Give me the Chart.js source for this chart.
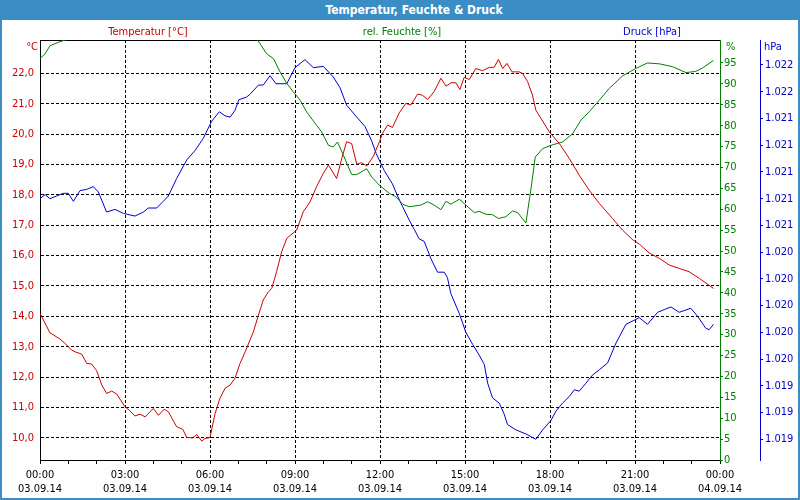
<!DOCTYPE html>
<html>
<head>
<meta charset="utf-8">
<script src="https://cdn.jsdelivr.net/npm/chart.js@4.4.0/dist/chart.umd.min.js"></script>
<style>
  html, body { margin: 0; padding: 0; background: #fdfefd; }
  #wrap { position: relative; width: 800px; height: 500px; background: #fdfefd; overflow: hidden; }
  #c { position: absolute; left: 0; top: 0; }
  .t { position: absolute; font-family: 'DejaVu Sans Condensed', 'DejaVu Sans', sans-serif; font-size: 11px; line-height: 14px; white-space: nowrap; }
  #frame { position: absolute; left: 0; top: 0; width: 800px; height: 500px; box-sizing: border-box; border: 2px solid #3b8ec5; border-top: none; pointer-events: none; }
  #title { position: absolute; left: 0; top: 0; width: 800px; height: 20px; background: #3b8ec5; color: #fff; font: bold 12px 'DejaVu Sans Condensed', 'DejaVu Sans', sans-serif; line-height: 20px; text-align: center; box-sizing: border-box; padding-left: 28px; }
</style>
</head>
<body>
<div id="wrap">
  <canvas id="c" width="800" height="500"></canvas>
  <div id="title">Temperatur, Feuchte &amp; Druck</div>
  <div class="t" style="left:148px;top:25px;transform:translateX(-50%);color:#cc0000">Temperatur [°C]</div>
  <div class="t" style="left:402px;top:25px;transform:translateX(-50%);color:#008000">rel. Feuchte [%]</div>
  <div class="t" style="left:652px;top:25px;transform:translateX(-50%);color:#0000cc">Druck [hPa]</div>
  <div class="t" style="left:0;width:38px;text-align:right;top:40px;color:#cc0000">°C</div>
  <div class="t" style="left:726px;top:40px;color:#008000">%</div>
  <div class="t" style="left:764px;top:40px;color:#0000cc">hPa</div>
  <div id="frame"></div>
</div>
<script>
// ---- time ticks (hours since 03.09.14 00:00) ----
const timeTicks = [0, 3, 6, 9, 12, 15, 18, 21, 24];
const timeLabels = ['00:00', '03:00', '06:00', '09:00', '12:00', '15:00', '18:00', '21:00', '00:00'];
const dateLabels = ['03.09.14', '03.09.14', '03.09.14', '03.09.14', '03.09.14', '03.09.14', '03.09.14', '03.09.14', '04.09.14'];

// ---- axis ticks ----
const tempTicks = [10, 11, 12, 13, 14, 15, 16, 17, 18, 19, 20, 21, 22];
const humTicks = [0, 5, 10, 15, 20, 25, 30, 35, 40, 45, 50, 55, 60, 65, 70, 75, 80, 85, 90, 95];
const presTicks = [1019.0, 1019.2, 1019.4, 1019.6, 1019.8, 1020.0, 1020.2, 1020.4, 1020.6, 1020.8, 1021.0, 1021.2, 1021.4, 1021.6, 1021.8];

// ---- Temperatur [°C] ----
const tempHours = [
  0, 0.35, 0.71, 0.88, 1.12, 1.24, 1.47, 1.65, 1.82, 2.0,
  2.18, 2.35, 2.53, 2.71, 3.0, 3.15, 3.35, 3.53, 3.71, 4.0,
  4.18, 4.38, 4.53, 4.82, 5.04, 5.18, 5.39, 5.53, 5.71, 5.82,
  6.0, 6.18, 6.35, 6.53, 6.71, 6.88, 7.06, 7.24, 7.53, 7.71,
  7.88, 8.06, 8.18, 8.35, 8.53, 8.71, 8.94, 9.06, 9.29, 9.53,
  9.76, 10.0, 10.18, 10.47, 10.65, 10.82, 11.0, 11.18, 11.35, 11.53,
  11.76, 11.98, 12.09, 12.27, 12.44, 12.68, 12.91, 13.09, 13.33, 13.5,
  13.68, 13.91, 14.15, 14.33, 14.5, 14.68, 14.82, 14.97, 15.15, 15.38,
  15.62, 15.86, 16.03, 16.18, 16.33, 16.48, 16.66, 16.91, 17.03, 17.21,
  17.38, 17.5, 17.68, 17.97, 18.33, 18.68, 19.03, 19.38, 19.74, 20.21,
  20.56, 20.91, 21.15, 21.5, 21.86, 22.21, 22.56, 22.91, 23.27, 23.77
];
const tempValues = [
  14.1, 13.46, 13.25, 13.11, 12.89, 12.83, 12.76, 12.45, 12.43, 12.21,
  11.74, 11.46, 11.54, 11.44, 11.02, 10.91, 10.72, 10.78, 10.69, 10.97,
  10.74, 10.94, 10.86, 10.37, 10.28, 10.01, 10.0, 10.11, 9.89, 9.98,
  10.01, 10.8, 11.3, 11.63, 11.74, 11.96, 12.45, 12.83, 13.49, 14.04,
  14.54, 14.81, 14.92, 15.47, 16.13, 16.57, 16.75, 16.84, 17.44, 17.77,
  18.27, 18.71, 18.98, 18.54, 19.2, 19.75, 19.69, 19.01, 19.06, 18.95,
  19.26, 19.75, 20.03, 20.3, 20.22, 20.7, 21.01, 20.96, 21.32, 21.28,
  21.14, 21.4, 21.84, 21.58, 21.69, 21.69, 21.47, 21.87, 21.8, 22.16,
  22.09, 22.2, 22.2, 22.46, 22.16, 22.33, 22.05, 22.05, 22.0, 21.73,
  21.29, 20.79, 20.52, 20.08, 19.69, 19.2, 18.65, 18.16, 17.72, 17.22,
  16.84, 16.53, 16.38, 16.09, 15.91, 15.69, 15.58, 15.47, 15.25, 14.92
];

// ---- rel. Feuchte [%] (values above the axis top are cut off in the original) ----
const humHours = [
  0, 0.18, 0.35, 0.7, 0.94, 1.5, 3.0, 5.0, 7.4, 7.65,
  8.0, 8.24, 8.47, 8.71, 8.94, 9.18, 9.41, 9.76, 9.94, 10.18,
  10.35, 10.5, 10.71, 11.0, 11.18, 11.53, 11.71, 11.97, 12.33, 12.56,
  12.8, 13.03, 13.44, 13.68, 13.91, 14.15, 14.33, 14.5, 14.8, 15.03,
  15.33, 15.5, 15.74, 15.97, 16.18, 16.44, 16.68, 16.86, 17.15, 17.33,
  17.48, 17.74, 18.03, 18.44, 18.8, 19.09, 19.38, 19.74, 20.09, 20.56,
  21.03, 21.44, 21.86, 22.33, 22.8, 23.15, 23.38, 23.77
];
const humValues = [
  96.05, 97.2, 99.1, 100.1, 100.6, 101.8, 103, 103, 102.5, 100.8,
  97.2, 96.05, 92.9, 90.1, 88.1, 86.1, 83.3, 80.1, 78.5, 75.3,
  74.9, 76.1, 72.9, 68.3, 68.3, 69.7, 67.7, 65.8, 63.8, 63.0,
  61.2, 60.6, 61.0, 61.8, 61.0, 59.9, 61.9, 61.2, 62.4, 61.0,
  59.2, 59.5, 58.8, 58.7, 57.8, 58.2, 59.6, 59.2, 56.7, 65.0,
  72.5, 74.5, 75.3, 76.1, 78.1, 81.3, 83.3, 86.1, 88.9, 91.9,
  93.7, 95.0, 94.8, 94.1, 92.7, 93.0, 93.8, 95.6
];

// ---- Druck [hPa] ----
const presHours = [
  0, 0.18, 0.35, 0.59, 0.82, 1.0, 1.18, 1.41, 1.65, 1.88,
  2.06, 2.35, 2.65, 2.94, 3.35, 3.65, 3.82, 4.12, 4.35, 4.53,
  4.82, 5.18, 5.47, 5.76, 6.06, 6.33, 6.53, 6.71, 6.88, 7.02,
  7.29, 7.41, 7.71, 7.88, 8.12, 8.33, 8.71, 9.0, 9.35, 9.65,
  10.0, 10.35, 10.59, 10.82, 11.18, 11.47, 11.71, 11.86, 12.15, 12.44,
  12.62, 12.8, 13.03, 13.21, 13.38, 13.56, 13.8, 14.03, 14.27, 14.38,
  14.5, 14.8, 15.03, 15.27, 15.5, 15.68, 15.8, 15.97, 16.21, 16.38,
  16.5, 16.8, 17.15, 17.5, 17.74, 18.03, 18.21, 18.44, 18.68, 18.86,
  19.03, 19.27, 19.5, 19.74, 20.03, 20.33, 20.68, 20.97, 21.15, 21.44,
  21.8, 22.03, 22.27, 22.56, 22.97, 23.21, 23.5, 23.62, 23.77
];
const presValues = [
  1020.80, 1020.83, 1020.80, 1020.82, 1020.84, 1020.84, 1020.78, 1020.86, 1020.87, 1020.89,
  1020.85, 1020.70, 1020.72, 1020.69, 1020.67, 1020.70, 1020.73, 1020.73, 1020.78, 1020.82,
  1020.95, 1021.09, 1021.16, 1021.25, 1021.38, 1021.45, 1021.42, 1021.41, 1021.46, 1021.54,
  1021.56, 1021.58, 1021.65, 1021.65, 1021.72, 1021.66, 1021.66, 1021.78, 1021.84, 1021.78,
  1021.79, 1021.71, 1021.63, 1021.50, 1021.41, 1021.34, 1021.23, 1021.14, 1021.01, 1020.91,
  1020.82, 1020.74, 1020.64, 1020.57, 1020.50, 1020.48, 1020.35, 1020.25, 1020.25, 1020.21,
  1020.09, 1019.94, 1019.80, 1019.71, 1019.63, 1019.56, 1019.42, 1019.31, 1019.27, 1019.19,
  1019.11, 1019.07, 1019.04, 1019.00, 1019.07, 1019.14, 1019.21, 1019.27, 1019.32, 1019.37,
  1019.36, 1019.42, 1019.48, 1019.52, 1019.57, 1019.72, 1019.86, 1019.89, 1019.91, 1019.86,
  1019.95, 1019.97, 1019.99, 1019.95, 1019.98, 1019.92, 1019.83, 1019.82, 1019.86
];

const toXY = (xs, ys) => xs.map((x, i) => ({ x: x, y: ys[i] }));
const FONT = "'DejaVu Sans Condensed', 'DejaVu Sans', sans-serif";
Chart.defaults.font.family = FONT;
Chart.defaults.font.size = 11;

const RED = '#cc0000', GREEN = '#008000', BLUE = '#0000cc';
const DASH = [3, 2];
const fixW = w => (s) => { s.width = w; };

new Chart(document.getElementById('c'), {
  type: 'line',
  data: {
    datasets: [
      { label: 'Temperatur [°C]', data: toXY(tempHours, tempValues), yAxisID: 'yT', borderColor: '#d00000', borderWidth: 1, pointRadius: 0, tension: 0 },
      { label: 'rel. Feuchte [%]', data: toXY(humHours, humValues), yAxisID: 'yH', borderColor: '#008000', borderWidth: 1, pointRadius: 0, tension: 0 },
      { label: 'Druck [hPa]', data: toXY(presHours, presValues), yAxisID: 'yP', borderColor: '#0000d0', borderWidth: 1, pointRadius: 0, tension: 0 }
    ]
  },
  options: {
    responsive: false,
    animation: false,
    events: [],
    layout: { padding: { top: 40, left: 0, right: 0, bottom: 0 } },
    plugins: { legend: { display: false }, tooltip: { enabled: false }, title: { display: false } },
    scales: {
      x: {
        type: 'linear', position: 'bottom', min: 0, max: 24,
        afterBuildTicks: s => { s.ticks = Array.from({ length: 25 }, (_, i) => ({ value: i })); },
        afterFit: s => { s.height = 40; },
        ticks: {
          autoSkip: false, maxRotation: 0, minRotation: 0, color: '#000', padding: 5,
          callback: v => { const k = timeTicks.indexOf(v); return k >= 0 ? [timeLabels[k], dateLabels[k]] : ''; }
        },
        grid: {
          color: c => (c.tick && timeTicks.indexOf(c.tick.value) > 0 && c.tick.value < 24) ? '#000' : 'rgba(0,0,0,0)',
          tickColor: '#000', tickLength: 4, tickWidth: 1, tickBorderDash: [], lineWidth: 1
        },
        border: { display: true, color: '#000', width: 1, dash: DASH }
      },
      xTop: {
        type: 'linear', position: 'top', min: 0, max: 24,
        afterFit: s => { s.height = 0; },
        ticks: { display: false },
        grid: { drawOnChartArea: false, drawTicks: false },
        border: { display: true, color: '#000', width: 1 }
      },
      yT: {
        type: 'linear', position: 'left', min: 9.27, max: 23.10,
        afterBuildTicks: s => { s.ticks = tempTicks.map(v => ({ value: v })); },
        afterFit: fixW(40),
        ticks: { color: RED, padding: 6, callback: v => v.toFixed(1).replace('.', ',') },
        grid: { color: c => (c.tick && c.tick.value >= 10) ? '#000' : 'rgba(0,0,0,0)', drawTicks: false, lineWidth: 1 },
        border: { display: true, color: '#000', width: 1, dash: DASH }
      },
      yH: {
        type: 'linear', position: 'right', weight: 1, min: 0, max: 100.5,
        afterBuildTicks: s => { s.ticks = humTicks.map(v => ({ value: v })); },
        afterFit: fixW(40),
        ticks: { color: GREEN, padding: 1, callback: v => String(v) },
        grid: { drawOnChartArea: false, drawTicks: true, tickLength: 3, tickColor: GREEN },
        border: { display: true, color: GREEN, width: 1 }
      },
      yP: {
        type: 'linear', position: 'right', weight: 2, min: 1018.845, max: 1021.987,
        afterBuildTicks: s => { s.ticks = presTicks.map(v => ({ value: v })); },
        afterFit: fixW(40),
        ticks: { color: BLUE, padding: 2, callback: v => { const r = String(Math.round(v)); return r.slice(0, r.length - 3) + '.' + r.slice(-3); } },
        grid: { drawOnChartArea: false, drawTicks: true, tickLength: 3, tickColor: BLUE },
        border: { display: true, color: BLUE, width: 1 }
      }
    }
  }
});
</script>
</body>
</html>
